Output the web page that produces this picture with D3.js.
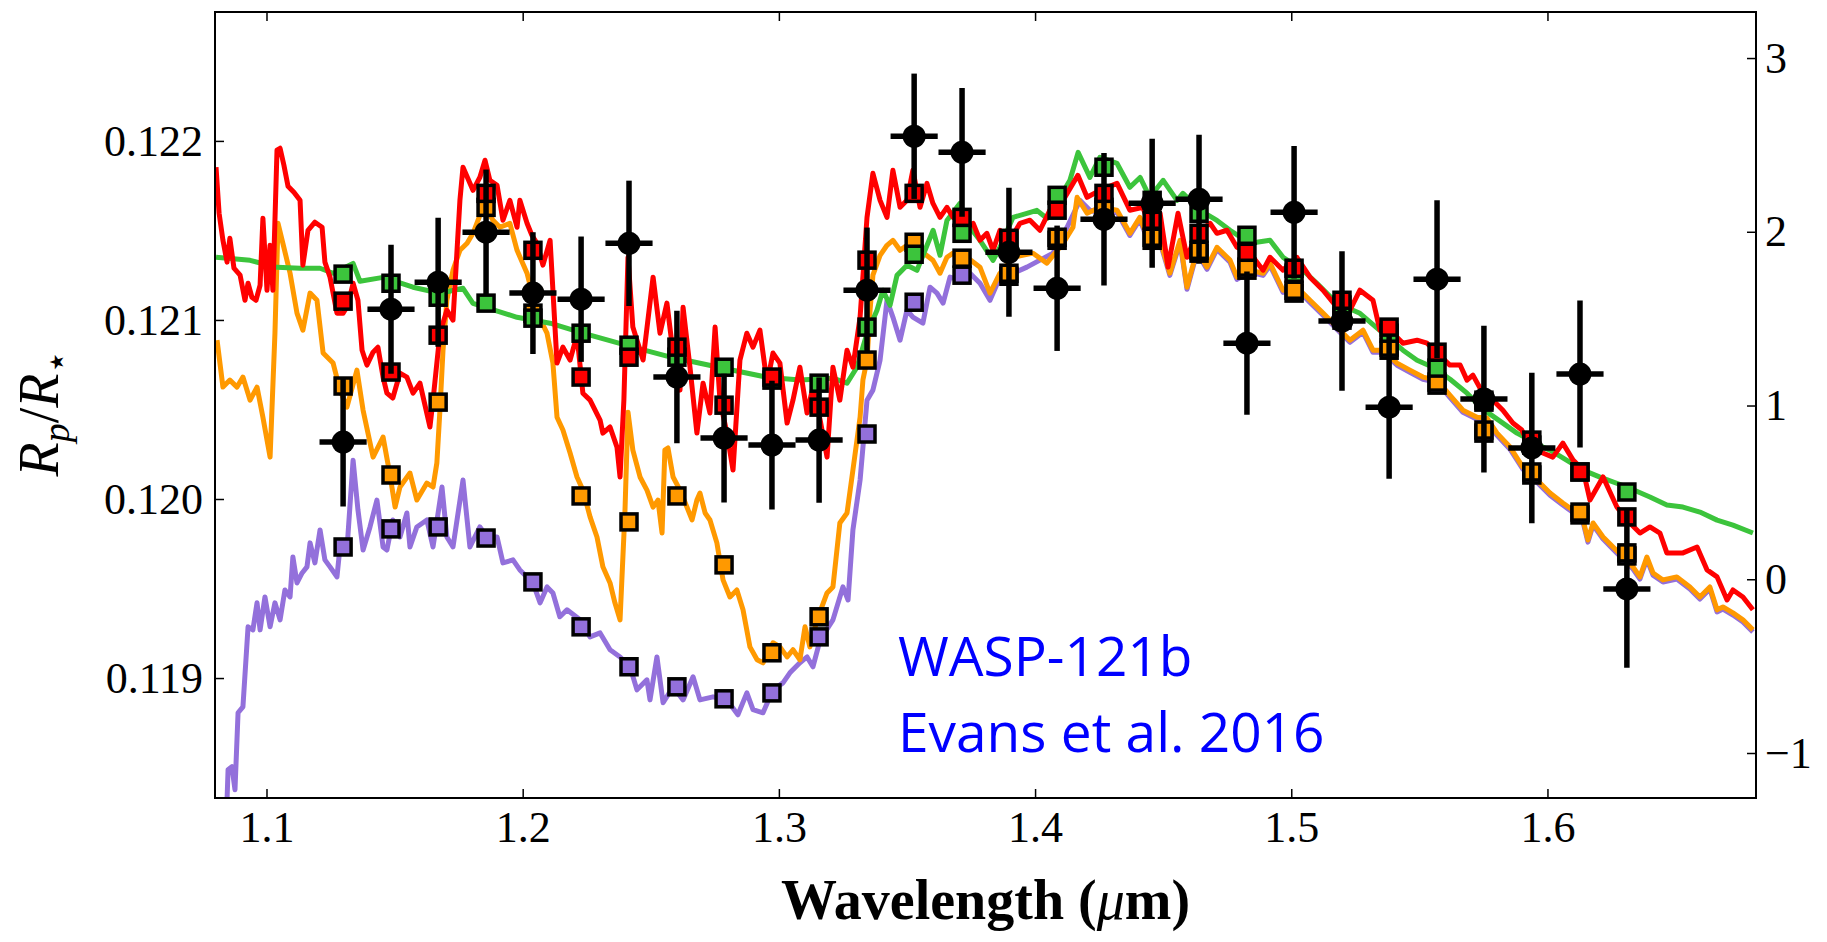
<!DOCTYPE html>
<html>
<head>
<meta charset="utf-8">
<script src="https://cdn.jsdelivr.net/npm/d3@7/dist/d3.min.js"></script>
<style>
  body { margin: 0; background: #fff; }
  svg { display: block; }
  .axis text { font-family: "Liberation Serif", serif; font-size: 44px; fill: #000; }
  .axis line { stroke: #000; stroke-width: 1.5; }
</style>
</head>
<body>
<div id="chart"></div>
<script>
const xDomain = [1.0799, 1.6814];
const leftDomain = [0.11833, 0.12272];
const rightDomain = [-1.259, 3.265];
const xTicks = [1.1, 1.2, 1.3, 1.4, 1.5, 1.6];
const leftTicks = [0.119, 0.120, 0.121, 0.122];
const rightTicks = [-1, 0, 1, 2, 3];

const wavelengths = [1.1299, 1.1486, 1.1670, 1.1857, 1.2040, 1.2228, 1.2415, 1.2602, 1.2786, 1.2973,
  1.3157, 1.3344, 1.3528, 1.3715, 1.3898, 1.4086, 1.4269, 1.4457, 1.4640, 1.4827,
  1.5011, 1.5198, 1.5382, 1.5569, 1.5752, 1.5939, 1.6127, 1.6310];
const binHalfWidth = 0.0092;

const dataRp = [0.120318, 0.12106, 0.121211, 0.12149, 0.12115, 0.121116, 0.121428, 0.120681, 0.12034, 0.120301,
  0.120329, 0.121166, 0.122026, 0.121936, 0.121378, 0.121177, 0.121562, 0.121652, 0.121674, 0.12087,
  0.121601, 0.120994, 0.120513, 0.121228, 0.120558, 0.120285, 0.120698, 0.119498];
const dataErr = [0.00036, 0.00036, 0.00036, 0.00035, 0.00034, 0.00035, 0.00035, 0.00037, 0.00036, 0.00036,
  0.00035, 0.00035, 0.00035, 0.00036, 0.00036, 0.00035, 0.00037, 0.00036, 0.00036, 0.0004,
  0.00037, 0.00039, 0.0004, 0.00044, 0.00041, 0.00042, 0.00041, 0.00044];

const greenBinned = [0.121256, 0.121205, 0.121127, 0.121094, 0.12101, 0.120926, 0.120859, 0.120792, 0.120736, 0.120664,
  0.120647, 0.12096, 0.121367, 0.121484, 0.121445, 0.121696, 0.121853, 0.121668, 0.121596, 0.121473,
  0.121261, 0.121083, 0.120926, 0.120731, 0.120541, 0.120301, 0.120151, 0.120039];
const redBinned = [0.121105, 0.120709, 0.120915, 0.121707, 0.121389, 0.120681, 0.120792, 0.120848, 0.120524, 0.120681,
  0.120513, 0.121334, 0.121707, 0.121573, 0.121456, 0.121613, 0.121707, 0.121557, 0.121484, 0.121378,
  0.121289, 0.12111, 0.12096, 0.12082, 0.120552, 0.120329, 0.120151, 0.1199];
const orangeBinned = [0.120631, 0.120134, 0.120541, 0.121629, 0.121038, 0.120017, 0.119872, 0.120017, 0.119632, 0.119141,
  0.119342, 0.120776, 0.121434, 0.121345, 0.121261, 0.121462, 0.121629, 0.121462, 0.121389, 0.121295,
  0.121166, 0.121016, 0.120848, 0.120653, 0.120385, 0.120151, 0.119927, 0.119699];
const purpleBinned = [0.119732, 0.119833, 0.119844, 0.119782, 0.119537, 0.119286, 0.119063, 0.118951, 0.118884, 0.118917,
  0.11923, 0.120363, 0.121099, 0.12125, 0.121244, 0.121445, 0.121613, 0.121445, 0.121373, 0.121278,
  0.12115, 0.120999, 0.120831, 0.120636, 0.120368, 0.120134, 0.119911, 0.119682];

const greenModel = [[1.0803,0.12135],[1.0936,0.121333],[1.1041,0.121294],[1.1131,0.121289],[1.1209,0.121289],[1.1260,0.121261],[1.1338,0.121316],[1.1365,0.121216],[1.1455,0.121238],[1.1572,0.121183],[1.1677,0.121149],[1.1767,0.121177],[1.1806,0.121093],[1.1978,0.121015],[1.2107,0.120982],[1.2235,0.120926],[1.2431,0.120848],[1.2563,0.120798],[1.2692,0.120758],[1.2821,0.120719],[1.2954,0.12068],[1.3082,0.120664],[1.3211,0.120675],[1.3266,0.120647],[1.3305,0.120736],[1.3344,0.120926],[1.3383,0.121054],[1.3406,0.121166],[1.3434,0.121082],[1.3461,0.121249],[1.3500,0.121305],[1.3539,0.121277],[1.3602,0.121501],[1.3629,0.121361],[1.3656,0.121556],[1.3707,0.121651],[1.3746,0.121517],[1.3785,0.121445],[1.3836,0.121333],[1.3863,0.121406],[1.3914,0.121573],[1.3968,0.121595],[1.4007,0.121612],[1.4047,0.121567],[1.4097,0.121685],[1.4136,0.12178],[1.4168,0.121936],[1.4214,0.121796],[1.4253,0.121908],[1.4320,0.121874],[1.4370,0.121741],[1.4410,0.121796],[1.4448,0.121685],[1.4500,0.12178],[1.4554,0.121668],[1.4577,0.121707],[1.4644,0.121612],[1.4710,0.121556],[1.4761,0.121501],[1.4839,0.121428],[1.4917,0.121445],[1.4968,0.12135],[1.5046,0.121277],[1.5100,0.121205],[1.5178,0.121093],[1.5268,0.121037],[1.5358,0.120926],[1.5436,0.120831],[1.5491,0.120775],[1.5553,0.120736],[1.5620,0.120669],[1.5686,0.120591],[1.5748,0.120502],[1.5826,0.120424],[1.5881,0.120368],[1.5982,0.12029],[1.6010,0.120273],[1.6139,0.120161],[1.6205,0.120122],[1.6310,0.120067],[1.6400,0.120011],[1.6466,0.119966],[1.6529,0.119955],[1.6595,0.119927],[1.6662,0.119882],[1.6724,0.119854],[1.6802,0.11981]];

const redModel = [[1.0803,0.121853],[1.0815,0.121596],[1.0830,0.121445],[1.0846,0.121323],[1.0857,0.121456],[1.0873,0.121289],[1.0897,0.12125],[1.0916,0.12111],[1.0928,0.121205],[1.0943,0.121127],[1.0959,0.12111],[1.0975,0.121194],[1.0986,0.121568],[1.1002,0.121166],[1.1014,0.121417],[1.1025,0.121166],[1.1041,0.121948],[1.1053,0.121959],[1.1068,0.121864],[1.1084,0.121747],[1.1107,0.121713],[1.1131,0.121668],[1.1142,0.121306],[1.1162,0.121501],[1.1189,0.121546],[1.1217,0.121518],[1.1228,0.121323],[1.1248,0.121239],[1.1275,0.121038],[1.1299,0.121038],[1.1318,0.121083],[1.1338,0.121205],[1.1357,0.12111],[1.1373,0.120831],[1.1392,0.120748],[1.1416,0.12082],[1.1435,0.120848],[1.1455,0.120681],[1.1470,0.120591],[1.1493,0.120564],[1.1521,0.120703],[1.1548,0.120681],[1.1572,0.120591],[1.1599,0.120647],[1.1638,0.120402],[1.1650,0.120552],[1.1677,0.120926],[1.1704,0.121055],[1.1728,0.120999],[1.1755,0.121668],[1.1767,0.121853],[1.1806,0.121724],[1.1833,0.121797],[1.1853,0.121892],[1.1872,0.12178],[1.1900,0.121752],[1.1923,0.121557],[1.1950,0.121668],[1.1978,0.121518],[1.1989,0.121668],[1.2017,0.12154],[1.2036,0.121473],[1.2056,0.121428],[1.2079,0.121306],[1.2107,0.121445],[1.2134,0.120759],[1.2157,0.120848],[1.2185,0.120776],[1.2212,0.120915],[1.2235,0.120591],[1.2263,0.120552],[1.2302,0.120441],[1.2313,0.120368],[1.2341,0.120402],[1.2368,0.12029],[1.2380,0.120123],[1.2395,0.120552],[1.2411,0.12135],[1.2430,0.12096],[1.2470,0.120776],[1.2509,0.121239],[1.2536,0.120926],[1.2563,0.121094],[1.2587,0.120815],[1.2614,0.120608],[1.2626,0.121071],[1.2653,0.120736],[1.2680,0.120368],[1.2704,0.120647],[1.2731,0.12048],[1.2751,0.12096],[1.2770,0.120552],[1.2797,0.120368],[1.2821,0.120162],[1.2848,0.120776],[1.2875,0.120926],[1.2899,0.120848],[1.2926,0.120943],[1.2954,0.120647],[1.2977,0.120815],[1.3004,0.120759],[1.3032,0.120424],[1.3055,0.120552],[1.3082,0.120736],[1.3110,0.12048],[1.3133,0.120625],[1.3161,0.120441],[1.3188,0.120234],[1.3211,0.120736],[1.3238,0.120552],[1.3266,0.120831],[1.3289,0.120736],[1.3317,0.121016],[1.3344,0.121573],[1.3367,0.121819],[1.3395,0.121668],[1.3422,0.121573],[1.3445,0.121836],[1.3473,0.121629],[1.3500,0.121668],[1.3523,0.121836],[1.3551,0.121629],[1.3578,0.121763],[1.3601,0.121652],[1.3629,0.121573],[1.3656,0.121629],[1.3680,0.121573],[1.3707,0.121613],[1.3734,0.121518],[1.3758,0.12154],[1.3785,0.121445],[1.3812,0.121484],[1.3836,0.121389],[1.3863,0.121501],[1.3902,0.121445],[1.3941,0.12154],[1.3980,0.121557],[1.4019,0.121501],[1.4058,0.121613],[1.4109,0.121668],[1.4167,0.121808],[1.4203,0.121685],[1.4253,0.121724],[1.4320,0.121763],[1.4370,0.121613],[1.4421,0.121629],[1.4448,0.121518],[1.4488,0.121596],[1.4519,0.121295],[1.4558,0.121596],[1.4593,0.12135],[1.4632,0.121484],[1.4683,0.12154],[1.4710,0.121484],[1.4749,0.121501],[1.4788,0.121406],[1.4839,0.121373],[1.4890,0.121278],[1.4917,0.12135],[1.4968,0.121278],[1.5022,0.12135],[1.5073,0.121239],[1.5124,0.121166],[1.5178,0.121071],[1.5229,0.121055],[1.5268,0.121166],[1.5319,0.12111],[1.5346,0.120943],[1.5397,0.120926],[1.5436,0.12087],[1.5491,0.120887],[1.5530,0.12087],[1.5569,0.120815],[1.5619,0.120748],[1.5659,0.120748],[1.5686,0.120664],[1.5709,0.120692],[1.5748,0.120591],[1.5787,0.120552],[1.5826,0.120496],[1.5865,0.120424],[1.5900,0.120385],[1.5932,0.12029],[1.5982,0.120257],[1.6021,0.120234],[1.6060,0.120312],[1.6100,0.120217],[1.6139,0.120162],[1.6166,0.119994],[1.6217,0.120123],[1.6271,0.119955],[1.6310,0.119883],[1.6361,0.11981],[1.6400,0.119844],[1.6439,0.11981],[1.6466,0.119699],[1.6529,0.119699],[1.6584,0.119732],[1.6623,0.119604],[1.6662,0.119565],[1.6701,0.119436],[1.6724,0.119492],[1.6763,0.119453],[1.6802,0.119381]];

const orangeModel = [[1.0807,0.120887],[1.0830,0.120625],[1.0857,0.120664],[1.0885,0.120625],[1.0908,0.120681],[1.0936,0.120552],[1.0963,0.120625],[1.0986,0.120457],[1.1014,0.120234],[1.1033,0.120926],[1.1045,0.12154],[1.1064,0.121428],[1.1092,0.121261],[1.1119,0.121038],[1.1142,0.120943],[1.1170,0.12115],[1.1197,0.12111],[1.1221,0.120815],[1.1260,0.120759],[1.1287,0.120608],[1.1314,0.120513],[1.1353,0.12072],[1.1377,0.120496],[1.1416,0.120234],[1.1455,0.120346],[1.1482,0.120134],[1.1502,0.119955],[1.1521,0.120067],[1.1560,0.120145],[1.1587,0.119994],[1.1626,0.120089],[1.1650,0.120067],[1.1665,0.120201],[1.1677,0.120496],[1.1689,0.120831],[1.1704,0.12111],[1.1728,0.121278],[1.1755,0.121389],[1.1783,0.121428],[1.1806,0.121484],[1.1833,0.121584],[1.1861,0.121613],[1.1884,0.121557],[1.1911,0.121518],[1.1950,0.12154],[1.1978,0.121389],[1.2017,0.121261],[1.2056,0.121038],[1.2095,0.120926],[1.2118,0.120759],[1.2134,0.120457],[1.2157,0.120385],[1.2185,0.120257],[1.2212,0.120123],[1.2235,0.12005],[1.2263,0.1199],[1.2290,0.119788],[1.2313,0.119621],[1.2341,0.119531],[1.2360,0.11942],[1.2380,0.119325],[1.2399,0.119922],[1.2411,0.120485],[1.2430,0.120273],[1.2458,0.120123],[1.2485,0.12005],[1.2509,0.119955],[1.2528,0.119994],[1.2544,0.11981],[1.2555,0.120273],[1.2567,0.120285],[1.2587,0.120123],[1.2614,0.12005],[1.2641,0.119955],[1.2661,0.119883],[1.2680,0.119994],[1.2692,0.120033],[1.2712,0.119922],[1.2731,0.119883],[1.2758,0.119755],[1.2782,0.119548],[1.2809,0.119453],[1.2836,0.119492],[1.2860,0.119381],[1.2887,0.119174],[1.2915,0.119102],[1.2938,0.119085],[1.2977,0.119197],[1.3004,0.119174],[1.3032,0.119118],[1.3055,0.119158],[1.3082,0.119102],[1.3102,0.119286],[1.3121,0.119174],[1.3149,0.119325],[1.3188,0.119475],[1.3211,0.119509],[1.3238,0.119866],[1.3266,0.119922],[1.3289,0.120162],[1.3317,0.120457],[1.3328,0.120664],[1.3344,0.120776],[1.3356,0.121055],[1.3367,0.12125],[1.3395,0.121361],[1.3422,0.121417],[1.3445,0.121445],[1.3473,0.121389],[1.3500,0.121417],[1.3523,0.121428],[1.3551,0.121389],[1.3601,0.121334],[1.3629,0.121261],[1.3656,0.12135],[1.3680,0.121373],[1.3734,0.12135],[1.3785,0.121295],[1.3824,0.12115],[1.3863,0.121261],[1.3914,0.12135],[1.3992,0.121373],[1.4046,0.121317],[1.4109,0.121428],[1.4148,0.121518],[1.4164,0.121685],[1.4203,0.121596],[1.4253,0.121629],[1.4320,0.121613],[1.4370,0.121484],[1.4409,0.121573],[1.4448,0.121428],[1.4488,0.121445],[1.4526,0.121261],[1.4566,0.121445],[1.4593,0.121183],[1.4632,0.121389],[1.4671,0.121295],[1.4710,0.121406],[1.4761,0.121334],[1.4788,0.121239],[1.4839,0.121278],[1.4890,0.121261],[1.4917,0.121317],[1.4968,0.121166],[1.5022,0.121183],[1.5073,0.12111],[1.5124,0.121038],[1.5178,0.12096],[1.5229,0.120887],[1.5280,0.120943],[1.5319,0.120831],[1.5358,0.120831],[1.5413,0.120759],[1.5463,0.12072],[1.5514,0.120681],[1.5569,0.120664],[1.5619,0.12058],[1.5670,0.120496],[1.5725,0.120457],[1.5764,0.120452],[1.5803,0.120368],[1.5854,0.12029],[1.5904,0.120178],[1.5959,0.120106],[1.6010,0.120033],[1.6060,0.119978],[1.6115,0.119922],[1.6139,0.119883],[1.6158,0.119771],[1.6178,0.119866],[1.6217,0.119788],[1.6256,0.119732],[1.6295,0.119676],[1.6334,0.119621],[1.6361,0.119565],[1.6388,0.119676],[1.6412,0.119587],[1.6451,0.119548],[1.6505,0.119565],[1.6556,0.119509],[1.6595,0.119453],[1.6634,0.119509],[1.6662,0.119381],[1.6685,0.119397],[1.6724,0.119364],[1.6763,0.119325],[1.6802,0.119269]];

const purpleModel = [[1.0846,0.11832],[1.0850,0.118488],[1.0865,0.118505],[1.0877,0.118376],[1.0889,0.118806],[1.0908,0.118839],[1.0928,0.119286],[1.0947,0.119269],[1.0963,0.11942],[1.0975,0.119269],[1.0994,0.119453],[1.1014,0.119286],[1.1033,0.11942],[1.1053,0.119325],[1.1072,0.119492],[1.1092,0.119453],[1.1103,0.119676],[1.1119,0.119531],[1.1139,0.119587],[1.1158,0.119621],[1.1170,0.119755],[1.1189,0.119643],[1.1209,0.119827],[1.1228,0.11966],[1.1248,0.119621],[1.1275,0.119565],[1.1287,0.119732],[1.1314,0.119715],[1.1338,0.120217],[1.1357,0.119939],[1.1377,0.119715],[1.1404,0.119844],[1.1431,0.119994],[1.1455,0.119732],[1.1470,0.119715],[1.1493,0.119883],[1.1521,0.119788],[1.1548,0.119922],[1.1560,0.119732],[1.1587,0.119844],[1.1626,0.119883],[1.1650,0.119732],[1.1685,0.120067],[1.1704,0.119788],[1.1728,0.119732],[1.1767,0.120106],[1.1794,0.119732],[1.1833,0.119844],[1.1861,0.119788],[1.1900,0.119788],[1.1923,0.119643],[1.1962,0.11966],[1.1989,0.119604],[1.2040,0.119531],[1.2068,0.11942],[1.2095,0.119509],[1.2118,0.119475],[1.2145,0.119342],[1.2173,0.119381],[1.2224,0.119325],[1.2263,0.11923],[1.2302,0.119252],[1.2341,0.119158],[1.2380,0.119118],[1.2419,0.119063],[1.2446,0.118934],[1.2485,0.11899],[1.2497,0.118878],[1.2524,0.119118],[1.2548,0.118862],[1.2587,0.118951],[1.2626,0.118878],[1.2665,0.119007],[1.2692,0.118878],[1.2743,0.118895],[1.2797,0.118878],[1.2840,0.118795],[1.2875,0.118917],[1.2899,0.118823],[1.2938,0.118806],[1.2977,0.118934],[1.3016,0.118973],[1.3043,0.119029],[1.3082,0.119085],[1.3110,0.119118],[1.3133,0.119063],[1.3161,0.119213],[1.3211,0.119325],[1.3250,0.119509],[1.3270,0.119436],[1.3289,0.119827],[1.3317,0.120106],[1.3344,0.120552],[1.3367,0.120608],[1.3395,0.120776],[1.3422,0.12111],[1.3445,0.121016],[1.3473,0.120887],[1.3500,0.121055],[1.3523,0.121016],[1.3562,0.120982],[1.3590,0.121183],[1.3617,0.12115],[1.3641,0.121094],[1.3668,0.121239],[1.3707,0.121222],[1.3746,0.121261],[1.3785,0.121205],[1.3824,0.12111],[1.3863,0.121239],[1.3914,0.121261],[1.3968,0.121295],[1.4019,0.121334],[1.4070,0.121373],[1.4125,0.121518],[1.4175,0.121668],[1.4214,0.121613],[1.4253,0.121596],[1.4320,0.121601],[1.4370,0.121472],[1.4409,0.121561],[1.4448,0.121416],[1.4488,0.121433],[1.4526,0.121249],[1.4566,0.121433],[1.4593,0.121171],[1.4632,0.121377],[1.4671,0.121283],[1.4710,0.121394],[1.4761,0.121322],[1.4788,0.121227],[1.4839,0.121266],[1.4890,0.121249],[1.4917,0.121305],[1.4968,0.121154],[1.5022,0.121171],[1.5073,0.121098],[1.5124,0.121026],[1.5178,0.120948],[1.5229,0.120875],[1.5280,0.120931],[1.5319,0.120819],[1.5358,0.120819],[1.5413,0.120747],[1.5463,0.120708],[1.5514,0.120669],[1.5569,0.120652],[1.5619,0.120568],[1.5670,0.120484],[1.5725,0.120445],[1.5764,0.12044],[1.5803,0.120356],[1.5854,0.120278],[1.5904,0.120166],[1.5959,0.120094],[1.6010,0.120021],[1.6060,0.119966],[1.6115,0.11991],[1.6139,0.119871],[1.6158,0.119759],[1.6178,0.119854],[1.6217,0.119776],[1.6256,0.11972],[1.6295,0.119664],[1.6334,0.119609],[1.6361,0.119553],[1.6388,0.119664],[1.6412,0.119575],[1.6451,0.119536],[1.6505,0.119553],[1.6556,0.119497],[1.6595,0.119441],[1.6634,0.119497],[1.6662,0.119369],[1.6685,0.119385],[1.6724,0.119352],[1.6763,0.119313],[1.6802,0.119257]];

const width = 1827;
const height = 942;
const margin = {top: 12, right: 71, bottom: 144, left: 215};
const innerW = width - margin.left - margin.right;
const innerH = height - margin.top - margin.bottom;

const models = [
  {color: '#9370db', line: purpleModel, binned: purpleBinned},
  {color: '#ff9900', line: orangeModel, binned: orangeBinned},
  {color: '#3cc43c', line: greenModel, binned: greenBinned},
  {color: '#ff0000', line: redModel, binned: redBinned}
];

const x = d3.scaleLinear().domain(xDomain).range([0, innerW]);
const y = d3.scaleLinear().domain(leftDomain).range([innerH, 0]);
const yRight = d3.scaleLinear().domain(rightDomain).range([innerH, 0]);

const svg = d3.select('#chart')
  .append('svg')
  .attr('width', width)
  .attr('height', height);

const g = svg.append('g')
  .attr('transform', `translate(${margin.left},${margin.top})`);

g.append('clipPath')
  .attr('id', 'plot-clip')
  .append('rect')
  .attr('width', innerW)
  .attr('height', innerH);

const plot = g.append('g').attr('clip-path', 'url(#plot-clip)');

const line = d3.line()
  .x(d => x(d[0]))
  .y(d => y(d[1]));

models.forEach(m => {
  plot.append('path')
    .datum(m.line)
    .attr('d', line)
    .attr('fill', 'none')
    .attr('stroke', m.color)
    .attr('stroke-width', 5)
    .attr('stroke-linejoin', 'round');
});

const sq = 16;
models.forEach(m => {
  plot.selectAll(null)
    .data(m.binned)
    .enter().append('rect')
    .attr('x', (d, i) => x(wavelengths[i]) - sq / 2)
    .attr('y', d => y(d) - sq / 2)
    .attr('width', sq)
    .attr('height', sq)
    .attr('fill', m.color)
    .attr('stroke', '#000')
    .attr('stroke-width', 3.5);
});

// measured transit depths
const points = wavelengths.map((w, i) => ({w, v: dataRp[i], e: dataErr[i]}));

const bars = plot.append('g').attr('stroke', '#000').attr('stroke-width', 5.5);

bars.selectAll('.vbar')
  .data(points)
  .enter().append('line')
  .attr('class', 'vbar')
  .attr('x1', d => x(d.w))
  .attr('x2', d => x(d.w))
  .attr('y1', d => y(d.v - d.e))
  .attr('y2', d => y(d.v + d.e));

bars.selectAll('.hbar')
  .data(points)
  .enter().append('line')
  .attr('class', 'hbar')
  .attr('x1', d => x(d.w - binHalfWidth))
  .attr('x2', d => x(d.w + binHalfWidth))
  .attr('y1', d => y(d.v))
  .attr('y2', d => y(d.v));

plot.selectAll('.pt')
  .data(points)
  .enter().append('circle')
  .attr('class', 'pt')
  .attr('cx', d => x(d.w))
  .attr('cy', d => y(d.v))
  .attr('r', 11.5)
  .attr('fill', '#000');

// axes
const tick = 9;

g.append('g')
  .attr('class', 'axis')
  .attr('transform', `translate(0,${innerH})`)
  .call(d3.axisBottom(x).tickValues(xTicks).tickFormat(d3.format('.1f'))
    .tickSizeInner(-tick).tickSizeOuter(0).tickPadding(13));

g.append('g')
  .attr('class', 'axis')
  .call(d3.axisTop(x).tickValues(xTicks).tickFormat('')
    .tickSizeInner(-tick).tickSizeOuter(0));

g.append('g')
  .attr('class', 'axis')
  .call(d3.axisLeft(y).tickValues(leftTicks).tickFormat(d3.format('.3f'))
    .tickSizeInner(-tick).tickSizeOuter(0).tickPadding(12));

g.append('g')
  .attr('class', 'axis')
  .attr('transform', `translate(${innerW},0)`)
  .call(d3.axisRight(yRight).tickValues(rightTicks).tickFormat(d => d < 0 ? '\u2212' + Math.abs(d) : d)
    .tickSizeInner(-tick).tickSizeOuter(0).tickPadding(9));

g.selectAll('.axis .domain').remove();

g.append('rect')
  .attr('width', innerW)
  .attr('height', innerH)
  .attr('fill', 'none')
  .attr('stroke', '#000')
  .attr('stroke-width', 2);

// axis titles
const xLabel = svg.append('text')
  .attr('x', margin.left + innerW / 2)
  .attr('y', 919)
  .attr('text-anchor', 'middle')
  .style('font-family', '"Liberation Serif", serif')
  .style('font-weight', 'bold')
  .style('font-size', '56px');
xLabel.append('tspan').text('Wavelength (');
xLabel.append('tspan').style('font-style', 'italic').style('font-weight', 'normal').text('\u03bc');
xLabel.append('tspan').text('m)');

const yLabel = svg.append('text')
  .attr('transform', 'translate(58,413) rotate(-90)')
  .attr('text-anchor', 'middle')
  .style('font-family', '"Liberation Serif", serif')
  .style('font-style', 'italic')
  .style('font-size', '56px');
yLabel.append('tspan').text('R');
yLabel.append('tspan').attr('dy', 11).style('font-size', '38px').text('p');
yLabel.append('tspan').attr('dy', -11).style('font-style', 'normal').text('/');
yLabel.append('tspan').text('R');
yLabel.append('tspan').attr('dy', 11).style('font-size', '38px').style('font-style', 'normal').text('\u22c6');

// annotation
const note = svg.append('g')
  .style('font-family', '"Open Sans", sans-serif')
  .style('font-size', '55px')
  .attr('fill', '#0000ff');
note.append('text').attr('x', 898).attr('y', 676).text('WASP-121b');
note.append('text').attr('x', 898).attr('y', 752).text('Evans et al. 2016');
</script>
</body>
</html>
